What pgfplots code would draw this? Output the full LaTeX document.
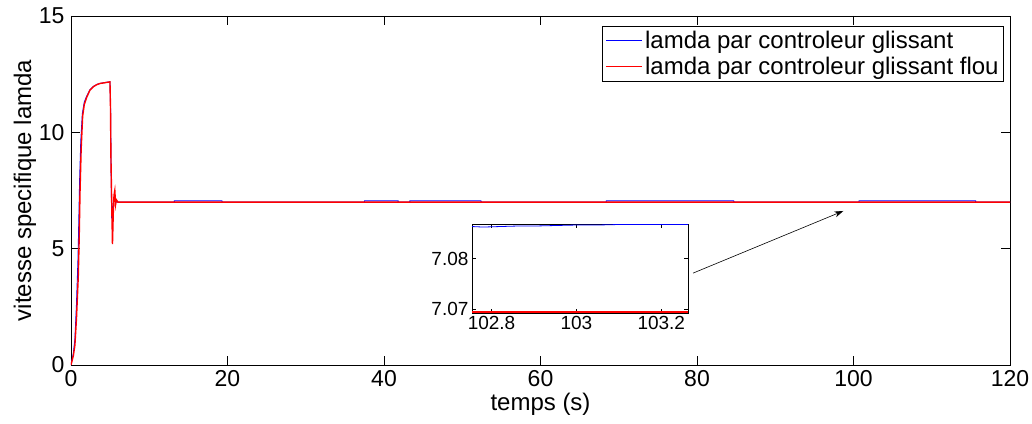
\documentclass[border=0pt]{standalone}
\usepackage{pgfplots}
\pgfplotsset{compat=1.18}
\usepackage{fontspec}
\setmainfont{Liberation Sans}
\usetikzlibrary{arrows.meta}
\begin{document}
\begin{tikzpicture}
\useasboundingbox (-71pt,-58pt) rectangle (961pt,365pt);
\begin{axis}[
  at={(0pt,0pt)}, anchor=south west,
  scale only axis, width=939pt, height=349pt,
  xmin=0, xmax=120, ymin=0, ymax=15,
  xtick={0,20,...,120}, ytick={0,5,10,15},
  tick align=inside, major tick length=9pt,
  axis line style={line width=0.8pt}, tick style={line width=0.6pt, black},
  every tick label/.append style={font=\fontsize{23}{25}\selectfont},
  xticklabel style={yshift=-2pt},
  yticklabel style={xshift=-3pt},
  /pgf/number format/assume math mode=true,
  xlabel={temps (s)}, ylabel={vitesse specifique lamda},
  label style={font=\fontsize{24}{26}\selectfont},
  xlabel style={yshift=1pt},
  ylabel style={yshift=-4pt},
  legend style={at={(1,1)}, xshift=-6pt, yshift=-10pt, anchor=north east,
    font=\fontsize{24}{26}\selectfont, draw=black, line width=0.8pt,
    row sep=3pt, inner sep=3pt},
  legend cell align=left,
  legend image code/.code={\draw[#1, line width=1.2pt] (0pt,0pt) -- (36pt,0pt);},
]
\addplot[blue, line width=0.9pt] coordinates {
(0,0) (0.3,0.5) (0.5,1.1) (0.7,2.6) (0.9,4.6) (1.0,6.2) (1.1,7.9) (1.25,9.6) (1.45,10.8) (1.7,11.3) (2.0,11.55) (2.4,11.82) (2.85,11.97) (3.3,12.06) (3.7,12.1) (4.3,12.14) (4.98,12.17) (5.05,11.2) (5.1,9.2) (5.2,6.3) (5.3,6.6) (5.45,7.2) (5.6,7.15) (5.8,7.0) (6,7.0)
(13.2,7.0) (13.21,7.055) (19.3,7.055) (19.31,7.0)
(37.5,7.0) (37.51,7.055) (41.8,7.055) (41.81,7.0)
(43.3,7.0) (43.31,7.055) (52.4,7.055) (52.41,7.0)
(68.4,7.0) (68.41,7.055) (84.7,7.055) (84.71,7.0)
(100.7,7.0) (100.71,7.055) (115.6,7.055) (115.61,7.0) (120,7.0)
};
\addlegendentry{lamda par controleur glissant}
\addplot[red, line width=1.4pt] coordinates {
(0,0) (0.3,0.4) (0.5,0.86) (0.7,2.0) (0.93,3.8) (1.05,5.5) (1.15,7.4) (1.3,9.3) (1.49,10.7) (1.7,11.2) (2.0,11.5) (2.4,11.8) (2.85,11.96) (3.3,12.05) (3.7,12.1) (4.3,12.13) (4.98,12.17) (5.05,11.0) (5.1,9.0) (5.2,7.0) (5.3,5.2) (5.4,6.5) (5.5,7.3) (5.6,7.5) (5.7,6.9) (5.8,7.1) (6.0,7.0) (120,7.0)
};
\addlegendentry{lamda par controleur glissant flou}
\draw[black, line width=0.6pt, -{Stealth[length=9pt,width=6pt]}] (axis cs:79.5,3.95) -- (axis cs:98.7,6.62);
\end{axis}
\begin{axis}[
  at={(401pt,52pt)}, anchor=south west,
  scale only axis, width=216pt, height=89pt,
  axis background/.style={fill=white},
  xmin=102.754, xmax=103.263, ymin=7.0693, ymax=7.0868,
  xtick={102.8,103,103.2}, ytick={7.07,7.08},
  tick align=inside, major tick length=4pt,
  axis line style={line width=0.8pt}, tick style={line width=0.6pt, black},
  every tick label/.append style={font=\fontsize{19}{21}\selectfont},
  /pgf/number format/assume math mode=true,
  yticklabel style={/pgf/number format/fixed, /pgf/number format/precision=2, /pgf/number format/fixed zerofill},
  xticklabel style={/pgf/number format/fixed, /pgf/number format/precision=1},
]
\addplot[blue, line width=0.8pt] coordinates {
(102.754,7.0863) (102.78,7.0862) (102.82,7.0863) (102.86,7.0864) (102.9,7.0864) (102.95,7.0865) (103.0,7.0866) (103.05,7.0866) (103.1,7.0867) (103.15,7.0867) (103.2,7.0867) (103.263,7.0867)
};
\addplot[red, line width=1.6pt, clip=false] coordinates {
(102.754,7.06955) (103.0,7.06955) (103.263,7.06955)
};
\end{axis}
\end{tikzpicture}
\end{document}
